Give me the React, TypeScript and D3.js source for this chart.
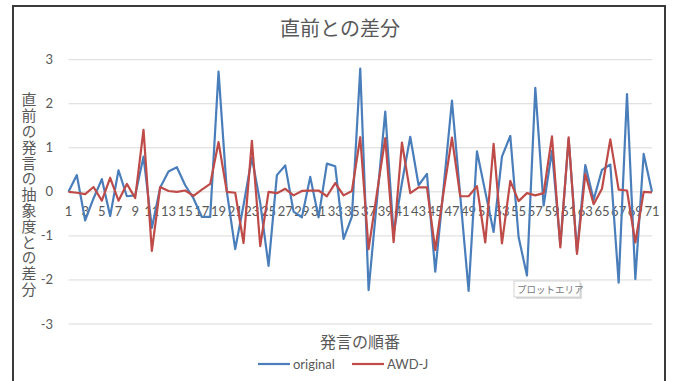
import React from "react";
import * as d3 from "d3";

// Utterance order 1..71
const categories: number[] = d3.range(1, 72);

// Difference from the previous utterance's abstraction level
const originalValues: number[] = [
  0, 0.38, -0.65, -0.15, 0.29, -0.55, 0.49, -0.1, -0.08, 0.8,
  -0.82, 0.1, 0.46, 0.56, 0.15, -0.15, -0.57, -0.57, 2.73, 0.0,
  -1.3, -0.3, 0.78, -0.25, -1.68, 0.38, 0.6, -0.45, -0.58, 0.34,
  -0.58, 0.64, 0.58, -1.07, -0.56, 2.8, -2.23, -0.2, 1.82, -0.96,
  0.2, 1.25, 0.15, 0.41, -1.81, 0.1, 2.07, -0.1, -2.25, 0.92,
  0.0, -0.91, 0.8, 1.27, -1.03, -1.9, 2.36, -0.31, 0.93, -1.2,
  1.2, -1.35, 0.61, -0.18, 0.5, 0.62, -2.06, 2.22, -1.98, 0.86,
  0,
];

const awdValues: number[] = [
  0, -0.02, -0.05, 0.11, -0.2, 0.32, -0.2, 0.18, -0.14, 1.41,
  -1.34, 0.11, 0.02, 0.0, 0.03, -0.09, 0.05, 0.18, 1.13, 0.0,
  -0.02, -1.16, 1.16, -1.23, 0.0, -0.03, 0.07, -0.08, 0.02, 0.03,
  0.03, -0.1, 0.2, -0.08, 0.02, 1.24, -1.3, -0.03, 1.22, -1.14,
  1.12, -0.03, 0.1, 0.1, -1.32, 0.0, 1.23, -0.1, -0.1, 0.13,
  -1.15, 1.09, -1.17, 0.25, -0.21, -0.03, -0.08, -0.03, 1.26, -1.26,
  1.24, -1.41, 0.41, -0.28, 0.07, 1.19, 0.05, 0.03, -1.15, 0,
  -0.01,
];

const yTicks: number[] = [-3, -2, -1, 0, 1, 2, 3];
const xTickLabels: number[] = categories.filter((c) => c % 2 === 1);

const seriesNames = ["original", "AWD-J"];
const seriesColors = ["#4a7ebb", "#be4b48"];

const W = 673;
const H = 381;
const TEXT = "#595959";
const NUM_FONT = "Lato, 'Noto Sans', sans-serif";
const JP_FONT = "'Noto Sans CJK JP', sans-serif";

export default function App() {
  const x = d3.scaleLinear().domain([1, 71]).range([68.5, 652]);
  const y = d3.scaleLinear().domain([-3, 3]).range([324, 59.7]);

  const line = d3
    .line<number>()
    .x((_, i) => x(categories[i]))
    .y((d) => y(d));

  const series = [originalValues, awdValues];

  return (
    <svg
      width={W}
      height={H}
      style={{ position: "absolute", left: 0, top: 0, background: "#fff" }}
    >
      <rect x={0} y={0} width={W} height={H} fill="#fff" />
      <rect
        x={13}
        y={6}
        width={652}
        height={390}
        fill="#fff"
        stroke="#3a3a3a"
        strokeWidth={2}
      />

      {/* title */}
      <text
        x={340}
        y={36}
        textAnchor="middle"
        fontFamily={JP_FONT}
        fontSize={20}
        fill={TEXT}
      >
        直前との差分
      </text>

      {/* gridlines */}
      {yTicks.map((t) => (
        <line
          key={t}
          x1={x.range()[0]}
          x2={x.range()[1]}
          y1={y(t)}
          y2={y(t)}
          stroke="#d9d9d9"
          strokeWidth={1}
        />
      ))}

      {/* y tick labels */}
      {yTicks.map((t) => (
        <text
          key={t}
          x={53}
          y={y(t) + 4.5}
          textAnchor="end"
          fontFamily={NUM_FONT}
          fontSize={13}
          fill={TEXT}
        >
          {t}
        </text>
      ))}

      {/* y axis title */}
      <text
        x={29}
        y={195}
        textAnchor="middle"
        fontFamily={JP_FONT}
        fontSize={15}
        fill={TEXT}
        style={{ writingMode: "vertical-rl", textOrientation: "upright", letterSpacing: "0.8px" }}
      >
        直前の発言の抽象度との差分
      </text>

      {/* x tick labels */}
      {xTickLabels.map((c) => (
        <text
          key={c}
          x={x(c)}
          y={216}
          textAnchor="middle"
          fontFamily={NUM_FONT}
          fontSize={13}
          fill={TEXT}
        >
          {c}
        </text>
      ))}

      {/* series */}
      {series.map((vals, i) => (
        <path
          key={seriesNames[i]}
          d={line(vals) || ""}
          fill="none"
          stroke={seriesColors[i]}
          strokeWidth={2.2}
          strokeLinejoin="round"
        />
      ))}

      {/* x axis title */}
      <text
        x={360}
        y={348}
        textAnchor="middle"
        fontFamily={JP_FONT}
        fontSize={16}
        fill={TEXT}
      >
        発言の順番
      </text>

      {/* legend */}
      <g fontFamily={NUM_FONT} fontSize={13} fill={TEXT}>
        <line x1={258} x2={290} y1={364} y2={364} stroke={seriesColors[0]} strokeWidth={2.2} />
        <text x={293} y={368.5}>{seriesNames[0]}</text>
        <line x1={352} x2={384} y1={364} y2={364} stroke={seriesColors[1]} strokeWidth={2.2} />
        <text x={387} y={368.5}>{seriesNames[1]}</text>
      </g>

      {/* hover tip */}
      <g>
        <rect x={516} y={283} width={66} height={16} fill="#cfcfcf" opacity={0.7} />
        <rect x={514} y={281} width={66} height={16} fill="#fff" stroke="#c8c8c8" strokeWidth={0.8} />
        <text x={517} y={293} fontFamily={JP_FONT} fontSize={9.5} fill="#777">
          プロットエリア
        </text>
      </g>
    </svg>
  );
}
